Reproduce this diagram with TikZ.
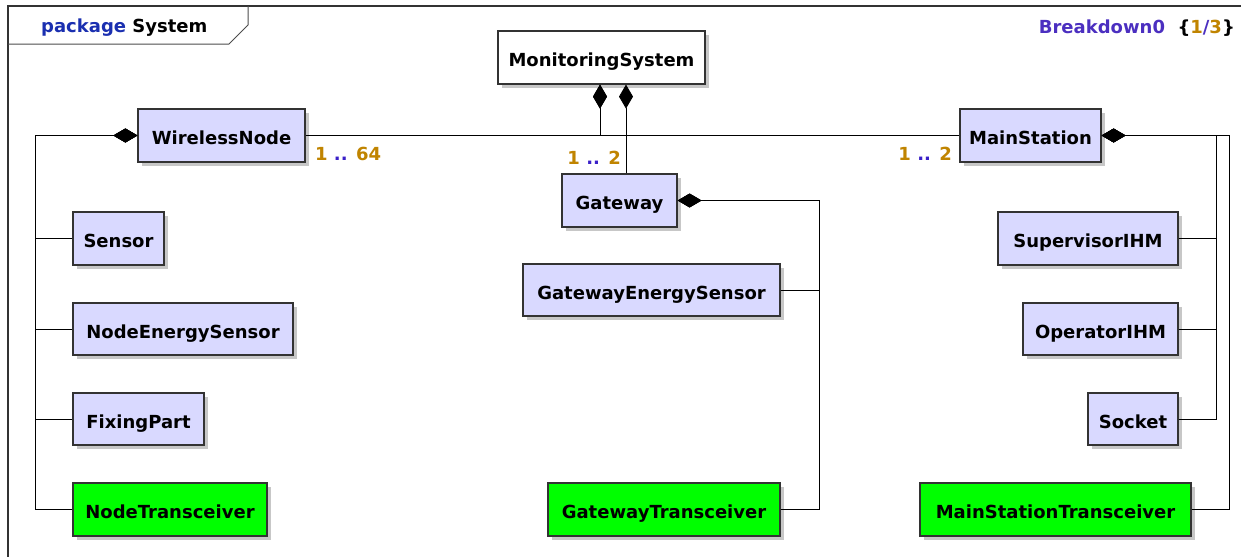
\documentclass[tikz,border=0pt]{standalone}
\usepackage{fontspec}
\setmainfont{DejaVu Sans}
\usetikzlibrary{arrows.meta,shadows,calc}
\definecolor{lav}{HTML}{D9D9FF}
\definecolor{grn}{HTML}{00FF00}
\definecolor{gold}{HTML}{C08400}
\definecolor{dots}{HTML}{3A20C8}
\definecolor{pkgblue}{HTML}{1A2FB0}
\definecolor{bdpurple}{HTML}{4B2FC0}
\begin{document}
\begin{tikzpicture}[x=1pt,y=-1pt,
  box/.style={draw=black!80, line width=1.2pt, inner sep=0pt, minimum height=53pt,
    text height=18pt, text depth=0pt,
    font=\fontsize{18}{21}\selectfont\bfseries,
    drop shadow={shadow xshift=4pt, shadow yshift=-4pt, fill=black!22, opacity=1}},
  cls/.style={box, fill=lav},
  xcvr/.style={box, fill=grn},
  comp/.style={draw=black, line width=0.8pt, -{Diamond[length=24pt,width=14pt,fill=black]}},
  mult/.style={font=\fontsize{18}{21}\selectfont\bfseries, inner sep=0pt},
  hdr/.style={font=\fontsize{18}{21}\selectfont\bfseries, inner sep=0pt}
]
\useasboundingbox (0,0) rectangle (1241,557);
% frame
\draw[line width=1.2pt, black!80] (1241,6) -- (8,6) -- (8,557);
\draw[line width=1pt, black!70] (248,6) -- (248,25) -- (229,44) -- (8,44);
\node[hdr, anchor=west] (pkg) at (41,28) {\textcolor{pkgblue}{package} System};
\node[hdr, anchor=east] (bd) at (1235,28) {\textcolor{bdpurple}{Breakdown0}\ \ \{\textcolor{gold}{1}\textcolor{bdpurple}{/}\textcolor{gold}{3}\}};

% nodes
\node[box, fill=white, minimum width=207pt] (ms) at (601.5,57.5) {MonitoringSystem};
\node[cls, minimum width=167pt] (wn) at (221.5,135.5) {WirelessNode};
\node[cls, minimum width=141pt] (mst) at (1030.5,135.5) {MainStation};
\node[cls, minimum width=115pt] (gw) at (619.5,200.5) {Gateway};
\node[cls, minimum width=91pt] (sensor) at (118.5,238.5) {Sensor};
\node[cls, minimum width=220pt, minimum height=52pt] (nes) at (183,329) {NodeEnergySensor};
\node[cls, minimum width=131pt, minimum height=52pt] (fp) at (138.5,419) {FixingPart};
\node[xcvr, minimum width=194pt] (nt) at (170,509.5) {NodeTransceiver};
\node[cls, minimum width=257pt, minimum height=52pt] (ges) at (651.5,290) {GatewayEnergySensor};
\node[xcvr, minimum width=232pt] (gt) at (664,509.5) {GatewayTransceiver};
\node[cls, minimum width=180pt] (sup) at (1088,238.5) {SupervisorIHM};
\node[cls, minimum width=155pt, minimum height=52pt] (op) at (1100.5,329) {OperatorIHM};
\node[cls, minimum width=90pt, minimum height=52pt] (sock) at (1133,419) {Socket};
\node[xcvr, minimum width=271pt] (mstt) at (1055.5,509.5) {MainStationTransceiver};

% compositions to MonitoringSystem
\draw[comp] (wn.east) -| ([xshift=-1.5pt]ms.south);
\draw[comp] (mst.west) -| ([xshift=-1.5pt]ms.south);
\draw[comp] ([xshift=6.5pt]gw.north) -- ([xshift=24.5pt]ms.south);

% WirelessNode parts
\foreach \p in {sensor,nes,fp,nt}
  \draw[comp] (\p.west) -- ++(-37,0) |- (wn.west);
% Gateway parts
\draw[comp] (ges.east) -- ++(39,0) |- (gw.east);
\draw[comp] (gt.east) -- ++(39,0) |- (gw.east);
% MainStation parts
\foreach \p in {sup,op,sock}
  \draw[comp] (\p.east) -- ++(38,0) |- (mst.east);
\draw[comp] (mstt.east) -- ++(38,0) |- (mst.east);

% multiplicities
\node[mult, anchor=west] (m1) at (315,154) {\textcolor{gold}{1} \textcolor{dots}{..} \textcolor{gold}{64}};
\node[mult, anchor=east] (m2) at (621,158) {\textcolor{gold}{1} \textcolor{dots}{..} \textcolor{gold}{2}};
\node[mult, anchor=east] (m3) at (952,154) {\textcolor{gold}{1} \textcolor{dots}{..} \textcolor{gold}{2}};
\end{tikzpicture}
\end{document}
